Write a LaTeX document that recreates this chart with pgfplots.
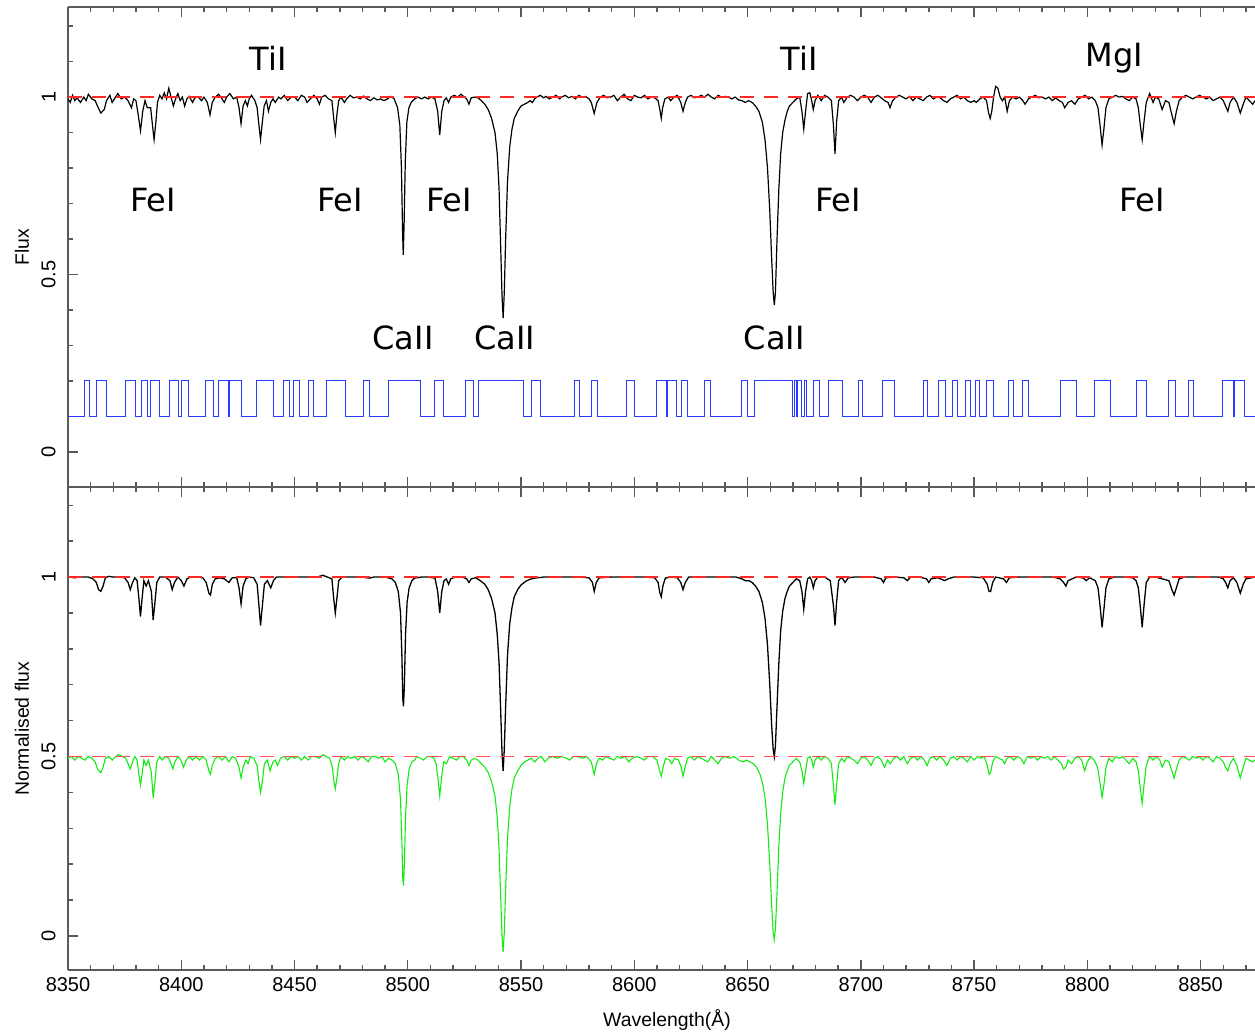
\documentclass[border=0pt]{standalone}
\usepackage{pgfplots}
\pgfplotsset{compat=1.18}
\usepackage{fontspec}
\setmainfont{Liberation Sans}
\newfontfamily\annfont{DejaVu Sans}

\definecolor{specred}{RGB}{255,40,40}
\definecolor{maskblue}{RGB}{40,60,255}
\definecolor{modelgreen}{RGB}{20,235,20}
\definecolor{framegray}{RGB}{90,90,90}

\tikzset{ann/.style={font=\annfont\fontsize{16}{18}\selectfont, anchor=center}}

\pgfplotsset{
  panel/.style={
    scale only axis, width=593.5pt,
    xmin=8350, xmax=8874,
    axis x line*=box, axis y line*=left,
    ytick pos=left,
    y axis line style={-},
    xtick={8350,8400,...,8850},
    minor xtick={8350,8360,...,8870},
    ytick={0,0.5,1},
    minor ytick={-0.1,0.1,0.2,0.3,0.4,0.6,0.7,0.8,0.9,1.1,1.2},
    xtick align=inside, ytick align=inside,
    major tick length=5pt, minor tick length=2.5pt,
    axis line style={framegray, line width=0.9pt},
    every tick/.style={framegray, line width=0.7pt},
    /pgf/number format/assume math mode=true,
    /pgf/number format/set thousands separator={},
    ticklabel style={font=\fontsize{10}{12}\selectfont},
    yticklabel style={rotate=90, anchor=south, inner ysep=6pt},
    label style={font=\fontsize{9.7}{11}\selectfont},
    ylabel style={at={(axis description cs:-0.0388,0.5)}, anchor=center},
  },
}

\begin{document}
\begin{tikzpicture}
% ---------------- lower panel ----------------
\begin{axis}[panel, name=bot, at={(0,0)}, anchor=south west,
    height=241.5pt, ymin=-0.095, ymax=1.251,
    ylabel={Normalised flux},
    xlabel={Wavelength(Å)},
    xlabel style={at={(axis description cs:0.5,0)}, yshift=-25pt, xshift=2.75pt, anchor=center},
  ]
% normalised observed spectrum
\addplot[black, line width=0.65pt] coordinates {
(8350,1) (8353,0.998) (8355,1) (8357,1) (8359,1) (8361,0.995) (8362.5,0.985) (8363.5,0.965)
(8364.5,0.96) (8365.5,0.975) (8366.5,0.998) (8368,1.002) (8370,1) (8373,1) (8375,0.998)
(8376.5,0.985) (8377.5,0.965) (8378.5,0.985) (8379.5,0.998) (8380.5,0.99) (8381.3,0.94)
(8382,0.89) (8382.7,0.94) (8383.5,0.99) (8384.5,0.975) (8385.5,0.99) (8386.8,0.96)
(8387.6,0.88) (8388.4,0.93) (8389.2,0.985) (8390.5,1) (8393,1) (8395,0.99) (8396,0.965)
(8397,0.985) (8398.5,1) (8400,0.99) (8401.2,0.975) (8402.5,0.995) (8404,1) (8407,1)
(8409.5,0.998) (8411,0.985) (8412.2,0.955) (8412.9,0.95) (8413.7,0.98) (8415,0.995)
(8417,0.998) (8419,0.995) (8421,0.985) (8422.5,0.998) (8424.5,0.998) (8425.5,0.97)
(8426.4,0.925) (8427.3,0.975) (8428.5,0.995) (8430,1) (8432,0.998) (8433.5,0.98)
(8434.3,0.92) (8435,0.865) (8435.8,0.92) (8436.7,0.98) (8438,0.99) (8439.5,0.97)
(8440.7,0.99) (8442,1) (8445,1) (8450,1) (8455,1) (8460,1) (8462.5,1.005) (8464.5,1)
(8466.5,0.995) (8467.3,0.94) (8468,0.90) (8468.7,0.94) (8469.5,0.99) (8471,1) (8475,1)
(8480,1) (8483,0.997) (8485,1) (8490,1) (8493,0.995) (8494.5,0.985) (8495.8,0.96)
(8496.8,0.90) (8497.4,0.78) (8497.8,0.66) (8498.1,0.64) (8498.5,0.7) (8499,0.84)
(8499.7,0.93) (8500.6,0.97) (8501.8,0.99) (8503,0.997) (8506,1) (8509,1) (8512,0.997)
(8513.2,0.96) (8514.1,0.90) (8515,0.96) (8516,0.99) (8517,0.995) (8518,0.98) (8519,0.995)
(8521,1) (8524,1) (8526,0.995) (8527,0.985) (8528,0.995) (8530,0.998) (8532,0.99)
(8534,0.98) (8535.5,0.965) (8537,0.94) (8538.5,0.9) (8539.5,0.84) (8540.3,0.76)
(8541,0.63) (8541.6,0.51) (8542.1,0.46) (8542.6,0.52) (8543.2,0.64) (8544,0.78)
(8545,0.87) (8546,0.915) (8547,0.945) (8548.5,0.965) (8550,0.978) (8552,0.988)
(8554,0.994) (8556,0.997) (8560,1) (8570,1) (8575,1) (8580,0.998) (8581.5,0.985)
(8582.3,0.96) (8583.2,0.985) (8584.5,0.998) (8590,1) (8595,1) (8600,1) (8605,1)
(8609,0.998) (8610.5,0.985) (8611.3,0.955) (8611.9,0.945) (8612.6,0.975) (8613.7,0.997)
(8616,1) (8619,0.998) (8620.5,0.985) (8621.5,0.965) (8622.5,0.985) (8624,1) (8630,1)
(8635,1) (8640,1) (8645,1) (8647.5,0.995) (8649,0.99) (8650.5,0.99) (8652,0.985)
(8653.5,0.975) (8655,0.96) (8656.5,0.93) (8657.7,0.885) (8658.8,0.81) (8659.8,0.7)
(8660.6,0.59) (8661.3,0.52) (8661.8,0.50) (8662.3,0.53) (8663,0.64) (8663.8,0.76)
(8664.6,0.85) (8665.5,0.905) (8666.5,0.94) (8667.5,0.96) (8668.5,0.975) (8670,0.985)
(8671.5,0.995) (8673,0.99) (8674,0.96) (8674.8,0.91) (8675.6,0.96) (8676.5,0.995)
(8677.5,1) (8678.3,0.99) (8679,0.97) (8679.8,0.99) (8681,1) (8684,1) (8686.5,0.99)
(8687.9,0.92) (8688.6,0.865) (8689.3,0.93) (8690.2,0.99) (8691.5,1) (8693,0.985)
(8694.5,0.998) (8697,1) (8702,1) (8706,1) (8709,0.995) (8710,0.985) (8711,0.998)
(8715,1) (8719,0.998) (8720.5,0.99) (8722,1) (8726,1) (8729,0.995) (8730,0.985)
(8731,0.995) (8734,0.998) (8737,0.99) (8738.5,0.995) (8741,1) (8746,1) (8750,1)
(8754,0.998) (8755.8,0.98) (8756.6,0.96) (8757.3,0.96) (8758.2,0.985) (8759.5,1)
(8763,0.995) (8764.3,0.985) (8765.5,0.998) (8770,1) (8775,1) (8780,1) (8785,1)
(8788,0.995) (8789.5,0.985) (8790.5,0.975) (8791.5,0.99) (8795,1) (8798,0.998)
(8799.5,0.99) (8801,0.998) (8803.5,0.99) (8804.7,0.97) (8805.6,0.92) (8806.5,0.86)
(8807.3,0.91) (8808.2,0.97) (8809.5,0.995) (8812,1) (8816,1) (8820,0.998) (8821.5,0.99)
(8822.5,0.97) (8823.4,0.915) (8824.2,0.86) (8825,0.92) (8826,0.985) (8827.5,1) (8830,1)
(8833,0.995) (8836,0.99) (8837.3,0.965) (8838.3,0.95) (8839.3,0.97) (8840.5,0.995)
(8843,1) (8848,1) (8853,1) (8858,1) (8860,0.995) (8861,0.985) (8862,0.97) (8863,0.99)
(8864.5,0.998) (8866,0.985) (8867.5,0.955) (8868.8,0.98) (8870,0.995) (8874,1)
};
% model spectrum, shifted by -0.5
\addplot[modelgreen, line width=0.55pt] coordinates {
(8350,0.495) (8351.5,0.5) (8353,0.49) (8354.5,0.5) (8356,0.495) (8357.5,0.49) (8359,0.5)
(8360.5,0.495) (8362,0.485) (8363,0.465) (8364.5,0.455) (8365.5,0.47) (8366.5,0.495)
(8368,0.5) (8369.5,0.49) (8371,0.5) (8372.5,0.505) (8374,0.5) (8375.5,0.495) (8376.5,0.48)
(8377.5,0.465) (8378.5,0.485) (8379.5,0.5) (8380.5,0.49) (8381.3,0.45) (8382,0.42)
(8382.7,0.45) (8383.5,0.49) (8384.5,0.475) (8385.5,0.49) (8386.8,0.455) (8387.6,0.385)
(8388.4,0.43) (8389.2,0.485) (8390.5,0.5) (8391.5,0.49) (8393,0.5) (8394.5,0.495)
(8395.5,0.48) (8396.3,0.465) (8397.2,0.485) (8398.5,0.5) (8399.8,0.49) (8401,0.47)
(8402.2,0.49) (8403.5,0.5) (8405,0.49) (8406.5,0.5) (8408,0.49) (8409.5,0.5) (8411,0.49)
(8412.2,0.46) (8412.9,0.45) (8413.7,0.475) (8415,0.495) (8416.5,0.5) (8418,0.49)
(8419.5,0.5) (8421,0.485) (8422.5,0.5) (8424,0.495) (8425.5,0.47) (8426.4,0.44)
(8427.3,0.47) (8428.5,0.49) (8429.5,0.48) (8430.5,0.5) (8432,0.495) (8433.5,0.475)
(8434.3,0.43) (8435,0.40) (8435.8,0.43) (8436.7,0.48) (8438,0.49) (8439.2,0.46)
(8440.5,0.485) (8441.5,0.49) (8442.5,0.475) (8443.8,0.495) (8445.5,0.5) (8447,0.49)
(8448.5,0.5) (8450,0.495) (8451.5,0.5) (8453,0.49) (8454.5,0.5) (8456,0.49) (8457.5,0.5)
(8459,0.5) (8461,0.495) (8462.5,0.505) (8464,0.5) (8465.5,0.495) (8466.7,0.47)
(8467.4,0.43) (8468,0.41) (8468.7,0.44) (8469.5,0.48) (8470.5,0.5) (8472,0.49)
(8473.5,0.5) (8475,0.495) (8476.5,0.5) (8478,0.49) (8479.5,0.5) (8481,0.495)
(8482.5,0.485) (8484,0.5) (8485.5,0.5) (8487,0.495) (8488.5,0.5) (8490,0.485)
(8491.5,0.495) (8493,0.49) (8494.5,0.48) (8495.8,0.45) (8496.8,0.38) (8497.4,0.26)
(8497.8,0.16) (8498.1,0.14) (8498.5,0.2) (8499,0.33) (8499.7,0.42) (8500.6,0.465)
(8501.8,0.485) (8503,0.49) (8504,0.5) (8505.5,0.495) (8507,0.49) (8508.5,0.5) (8510,0.5)
(8511.5,0.495) (8512.5,0.48) (8513.3,0.44) (8514.1,0.39) (8514.9,0.44) (8515.8,0.485)
(8517,0.48) (8518.5,0.5) (8520,0.495) (8521.5,0.49) (8523,0.5) (8524.5,0.5) (8526,0.49)
(8527,0.475) (8528,0.49) (8529.5,0.495) (8531,0.49) (8532.5,0.48) (8534,0.47)
(8535.5,0.455) (8537,0.43) (8538.5,0.39) (8539.5,0.33) (8540.3,0.24) (8541,0.11)
(8541.6,0.0) (8542.1,-0.045) (8542.6,0.01) (8543.2,0.13) (8544,0.27) (8545,0.36)
(8546,0.41) (8547,0.44) (8548.5,0.46) (8550,0.475) (8551.5,0.485) (8553,0.49)
(8554.5,0.495) (8556,0.485) (8557.5,0.495) (8559,0.5) (8560.5,0.485) (8562,0.495)
(8564,0.5) (8566,0.495) (8568,0.5) (8570,0.495) (8571.5,0.49) (8573,0.5) (8575,0.5)
(8577,0.495) (8579,0.5) (8581,0.485) (8582.3,0.45) (8583.3,0.48) (8584.5,0.495)
(8586,0.49) (8587.5,0.5) (8589,0.495) (8591,0.49) (8592.5,0.5) (8594,0.495) (8596,0.5)
(8597.5,0.485) (8599,0.495) (8601,0.5) (8603,0.495) (8604.5,0.49) (8606,0.5) (8608,0.5)
(8610,0.49) (8611.2,0.46) (8611.9,0.445) (8612.7,0.47) (8613.8,0.495) (8615.5,0.49)
(8616.5,0.48) (8617.8,0.495) (8619.5,0.49) (8620.7,0.47) (8621.5,0.445) (8622.4,0.47)
(8623.5,0.495) (8625,0.5) (8626.5,0.49) (8628,0.5) (8629.5,0.495) (8631,0.49)
(8632.5,0.485) (8634,0.5) (8635.5,0.49) (8637,0.48) (8638.5,0.495) (8640,0.5)
(8642,0.495) (8644,0.5) (8646,0.49) (8648,0.485) (8649.5,0.49) (8651,0.485)
(8652.5,0.48) (8654,0.47) (8655.5,0.45) (8656.8,0.42) (8657.8,0.38) (8658.8,0.31)
(8659.8,0.2) (8660.6,0.09) (8661.3,0.01) (8661.8,-0.01) (8662.3,0.02) (8663,0.12)
(8663.8,0.25) (8664.6,0.34) (8665.5,0.4) (8666.5,0.44) (8667.5,0.46) (8668.5,0.475)
(8670,0.485) (8671.5,0.495) (8673,0.485) (8674,0.46) (8674.8,0.425) (8675.6,0.46)
(8676.5,0.495) (8677.5,0.5) (8678.3,0.49) (8679,0.47) (8679.8,0.49) (8681,0.5)
(8682.5,0.49) (8684,0.5) (8685.5,0.495) (8687,0.48) (8687.9,0.42) (8688.6,0.365)
(8689.3,0.42) (8690.2,0.48) (8691.5,0.495) (8692.8,0.485) (8694,0.5) (8695.5,0.495)
(8697,0.49) (8698.5,0.48) (8700,0.495) (8701.5,0.5) (8703,0.49) (8704.5,0.475)
(8706,0.495) (8707.5,0.5) (8709,0.49) (8710.5,0.47) (8711.8,0.49) (8713,0.48)
(8714.5,0.495) (8716,0.5) (8717.5,0.49) (8719,0.5) (8720.5,0.48) (8722,0.495)
(8723.5,0.5) (8725,0.49) (8726.5,0.5) (8728,0.49) (8729.3,0.475) (8730.5,0.495)
(8732,0.5) (8733.5,0.49) (8735,0.5) (8736.5,0.49) (8738,0.475) (8739.5,0.495) (8741,0.5)
(8742.5,0.49) (8744,0.5) (8745.5,0.495) (8747,0.485) (8748.5,0.5) (8750,0.49)
(8751.5,0.5) (8753,0.495) (8754.5,0.5) (8755.8,0.475) (8756.6,0.45) (8757.3,0.455)
(8758.2,0.485) (8759.5,0.5) (8761,0.495) (8762.5,0.49) (8763.5,0.48) (8764.5,0.495)
(8766,0.5) (8767.5,0.49) (8769,0.5) (8770.5,0.495) (8772,0.48) (8773.5,0.5)
(8775,0.495) (8776.5,0.5) (8778,0.49) (8779.5,0.5) (8781,0.495) (8782.5,0.5)
(8784,0.49) (8785.5,0.5) (8787,0.49) (8788.5,0.48) (8789.5,0.465) (8790.5,0.47)
(8791.5,0.49) (8793,0.48) (8794.5,0.495) (8796,0.5) (8797.5,0.49) (8798.8,0.46)
(8800,0.485) (8801.5,0.5) (8803,0.49) (8804.5,0.47) (8805.5,0.43) (8806.5,0.387)
(8807.3,0.42) (8808.2,0.47) (8809.5,0.495) (8811,0.485) (8812.5,0.5) (8814,0.495)
(8815.5,0.5) (8817,0.49) (8818.5,0.48) (8820,0.495) (8821.5,0.485) (8822.5,0.46)
(8823.4,0.41) (8824.2,0.37) (8825,0.42) (8826,0.475) (8827.5,0.5) (8829,0.49)
(8830.5,0.5) (8832,0.49) (8833,0.47) (8834.5,0.49) (8836,0.485) (8837.3,0.46)
(8838.3,0.44) (8839.3,0.465) (8840.5,0.49) (8842,0.5) (8843.5,0.495) (8845,0.49)
(8846.5,0.5) (8848,0.495) (8849.5,0.5) (8851,0.49) (8852.5,0.5) (8854,0.495)
(8855.5,0.485) (8857,0.5) (8858.5,0.495) (8860,0.485) (8861,0.47) (8862,0.46)
(8863,0.48) (8864.5,0.495) (8866,0.475) (8867.5,0.44) (8868.8,0.47) (8870,0.495)
(8871.5,0.49) (8873,0.485) (8874,0.49)
};
\addplot[specred, line width=0.8pt, dash pattern=on 7pt off 5pt] coordinates {(8350,1) (8874,1)};
\addplot[specred!80!white, line width=0.8pt, dash pattern=on 7pt off 5pt] coordinates {(8350,0.5) (8874,0.5)};
\end{axis}

% ---------------- upper panel ----------------
\begin{axis}[panel, name=top, at={(0,241.5pt)}, anchor=south west,
    height=240pt, ymin=-0.099, ymax=1.254,
    xticklabels={},
    ylabel={Flux},
  ]
% observed spectrum
\addplot[black, line width=0.6pt] coordinates {
(8350,0.995) (8351,0.985) (8352,1.005) (8353,0.99) (8354,0.998) (8355.5,0.985) (8357,1.0)
(8358,0.99) (8359,1.008) (8360.5,0.995) (8362,0.99) (8363,0.975) (8364.5,0.955) (8366,0.965)
(8367,0.99) (8368.5,1.005) (8369.5,0.985) (8371,1.0) (8372,1.01) (8373.5,0.995) (8375,1.0)
(8376.5,0.99) (8378,0.97) (8379,0.995) (8380,0.99) (8381,0.95) (8382,0.905) (8383,0.96)
(8384,0.99) (8385,0.97) (8386.5,0.97) (8387.3,0.92) (8388,0.88) (8388.8,0.93) (8389.5,0.985)
(8390.5,1.005) (8391.5,0.995) (8392.5,1.012) (8393.5,0.995) (8394.5,1.025) (8395.5,1.0)
(8396.5,0.975) (8397.5,0.995) (8398.5,1.01) (8399.5,0.99) (8400.5,1.0) (8401.5,0.975)
(8402.5,0.995) (8403.5,1.002) (8405,0.985) (8406,0.998) (8407.5,1.0) (8409,0.99) (8410,1.0)
(8411.5,0.985) (8412.7,0.95) (8413.7,0.985) (8415,1.0) (8416.5,1.008) (8418,0.995)
(8419,0.985) (8420,1.0) (8421.5,1.01) (8423,0.995) (8424.5,1.0) (8425.5,0.97) (8426.4,0.925)
(8427.3,0.975) (8428.3,0.99) (8429.2,0.975) (8430,0.995) (8431,1.005) (8432.5,0.99)
(8433.5,0.97) (8434.3,0.92) (8435,0.88) (8435.8,0.93) (8436.6,0.975) (8437.6,0.99)
(8438.5,0.96) (8439.5,0.985) (8440.5,0.995) (8441.5,0.985) (8443,1.0) (8444,0.995)
(8445.5,1.005) (8447,0.99) (8448.5,1.0) (8450,1.0) (8451.5,0.99) (8453,1.005) (8454.5,1.0)
(8455.5,0.985) (8457,0.995) (8458.5,1.005) (8460,0.995) (8461,0.98) (8462,1.0)
(8463.5,1.005) (8465,0.995) (8466.5,0.99) (8467.3,0.94) (8468,0.90) (8468.7,0.95)
(8469.5,0.99) (8470.5,1.0) (8472,0.985) (8473,0.995) (8474.5,1.005) (8476,0.998)
(8477.5,1.0) (8479,0.995) (8480.5,1.003) (8482,0.995) (8483.5,0.99) (8485,0.998)
(8486.5,0.992) (8488,0.995) (8489.5,0.99) (8491,0.995) (8492.5,1.002) (8494,0.995)
(8495.5,0.97) (8496.5,0.92) (8497.2,0.80) (8497.7,0.62) (8498,0.555) (8498.4,0.65)
(8498.9,0.82) (8499.6,0.93) (8500.5,0.97) (8501.5,0.985) (8503,0.995) (8504.5,1.0)
(8506,0.995) (8507.5,1.0) (8509,0.995) (8510.5,1.0) (8512,0.995) (8513.2,0.96)
(8514.1,0.893) (8515,0.96) (8516,0.99) (8517,0.998) (8518,0.985) (8519,1.0) (8520.5,1.005)
(8522,1.0) (8523.5,1.008) (8525,1.0) (8526,0.995) (8527,0.98) (8528,0.998) (8529.5,1.0)
(8531,0.998) (8532.5,0.99) (8534,0.98) (8535.5,0.965) (8537,0.94) (8538.5,0.9)
(8539.5,0.84) (8540.3,0.74) (8541,0.58) (8541.6,0.44) (8542.1,0.377) (8542.6,0.45)
(8543.2,0.6) (8544,0.76) (8545,0.86) (8546,0.91) (8547,0.94) (8548.5,0.96) (8550,0.975)
(8551.5,0.98) (8553,0.985) (8554,0.99) (8555,0.985) (8556,0.995) (8557,1.0) (8558.5,1.005)
(8560,0.998) (8561,1.002) (8562.5,0.995) (8564,1.0) (8565.5,1.005) (8567,0.995) (8568,1.0)
(8569.5,1.005) (8571,0.998) (8572.5,1.002) (8574,0.995) (8575.5,1.005) (8577,1.0)
(8578.5,1.002) (8580,0.995) (8581,0.985) (8582.3,0.954) (8583.5,0.985) (8585,1.0)
(8586.5,1.005) (8588,0.998) (8589.5,1.0) (8591,1.005) (8592.5,0.99) (8594,1.0)
(8595.5,1.008) (8597,0.995) (8598.5,0.99) (8600,1.005) (8601.5,1.0) (8603,0.998)
(8604.5,1.005) (8606,0.995) (8607.5,1.0) (8609,0.998) (8610.5,0.99) (8611.4,0.96)
(8611.9,0.94) (8612.5,0.97) (8613.5,0.995) (8615,1.0) (8616,0.99) (8617.5,1.0)
(8619,1.005) (8620.5,0.985) (8621.5,0.96) (8622.5,0.985) (8623.5,1.0) (8625,1.005)
(8626.5,0.998) (8628,1.0) (8629.5,1.005) (8631,1.0) (8632.5,1.008) (8634,1.0)
(8635.5,0.995) (8637,1.005) (8638.5,1.0) (8640,1.002) (8641.5,1.0) (8643,0.995)
(8644.5,1.0) (8646,0.992) (8647.5,0.99) (8649,0.985) (8650.5,0.99) (8652,0.985)
(8653.5,0.975) (8655,0.96) (8656.5,0.93) (8657.7,0.88) (8658.8,0.8) (8659.8,0.68)
(8660.6,0.55) (8661.3,0.45) (8661.8,0.414) (8662.3,0.45) (8663,0.6) (8663.8,0.74)
(8664.6,0.84) (8665.5,0.9) (8666.5,0.935) (8667.5,0.96) (8668.5,0.975) (8670,0.985)
(8671.5,0.995) (8673,1.0) (8674,0.96) (8674.8,0.91) (8675.6,0.96) (8676.5,1.01)
(8677.5,1.012) (8678.3,0.99) (8679,0.965) (8679.8,0.99) (8681,1.005) (8682.5,0.99)
(8684,1.005) (8685.5,1.0) (8687,0.99) (8687.9,0.92) (8688.6,0.84) (8689.3,0.93)
(8690.2,0.99) (8691.5,1.0) (8692.5,0.985) (8694,1.0) (8695.5,1.005) (8697,1.0)
(8698.5,0.99) (8700,1.0) (8701.5,1.005) (8703,1.0) (8704.5,0.985) (8706,1.0)
(8707.5,1.005) (8709,0.998) (8710.5,0.99) (8712,0.985) (8712.9,0.97) (8714,0.99)
(8715.5,1.0) (8717,1.005) (8718.5,1.0) (8720,0.995) (8721.5,1.002) (8723,0.99)
(8724.5,1.0) (8726,0.995) (8727.5,0.99) (8729,1.0) (8730.5,1.005) (8732,0.995)
(8733.5,1.0) (8735,0.998) (8736.5,0.99) (8738,0.985) (8739.5,0.995) (8741,1.0)
(8742.5,1.005) (8744,0.995) (8745.5,1.0) (8747,0.99) (8748.5,0.985) (8750,0.99)
(8751,0.985) (8752.5,0.995) (8754,1.0) (8755.5,0.99) (8756.4,0.955) (8757.1,0.94)
(8757.8,0.96) (8758.6,1.0) (8759.5,1.03) (8760.5,1.025) (8761.5,1.0) (8762.5,0.99)
(8763.5,1.0) (8764.6,0.96) (8765.6,0.99) (8767,1.0) (8768.5,0.995) (8770,1.0)
(8771.5,0.99) (8772.5,0.98) (8774,0.995) (8775.5,1.0) (8777,1.005) (8778.5,0.998)
(8780,1.0) (8781.5,0.995) (8783,1.0) (8784.5,0.99) (8786,0.998) (8787.5,0.99)
(8789,0.985) (8790,0.97) (8791.5,0.985) (8793,0.99) (8794.5,0.98) (8796,0.995)
(8797.5,1.0) (8799,1.005) (8800.5,0.995) (8802,1.0) (8803.5,0.99) (8804.7,0.97)
(8805.6,0.92) (8806.5,0.865) (8807.3,0.91) (8808.2,0.97) (8809.5,0.995) (8811,1.0)
(8812.5,1.005) (8814,1.0) (8815.5,1.002) (8817,0.995) (8818.5,0.99) (8820,1.0)
(8821.5,0.995) (8822.5,0.97) (8823.4,0.92) (8824.2,0.88) (8825,0.93) (8826,0.985)
(8827.5,1.01) (8829,0.985) (8830,1.0) (8831.5,0.995) (8833,0.965) (8834.5,0.99)
(8836,0.985) (8837.3,0.95) (8838.3,0.925) (8839.3,0.96) (8840.5,0.99) (8842,1.0)
(8843.5,1.005) (8845,1.0) (8846.5,0.995) (8848,1.0) (8849.5,1.005) (8851,1.0)
(8852.5,0.995) (8854,1.0) (8855.5,0.99) (8857,0.995) (8858.5,1.0) (8860,0.99)
(8861,0.975) (8862,0.96) (8863,0.985) (8864.5,1.0) (8866,0.985) (8867.5,0.955)
(8868.8,0.98) (8870,1.0) (8871.5,0.99) (8873,0.98) (8874,0.99)
};
\addplot[specred, line width=0.8pt, dash pattern=on 7pt off 5pt] coordinates {(8350,1) (8874,1)};
% line mask
\addplot[maskblue, line width=0.5pt, const plot] coordinates {
(8350,0.1) (8357.1,0.2) (8359.4,0.1) (8362.4,0.2) (8367.1,0.1) (8375.5,0.2) (8379.6,0.1)
(8382.5,0.2) (8385.0,0.1) (8386.2,0.2) (8390.6,0.1) (8395.0,0.2) (8398.7,0.1)
(8400.2,0.2) (8403.1,0.1) (8410.8,0.2) (8414.2,0.1) (8416.4,0.2) (8420.8,0.1)
(8421.5,0.2) (8426.7,0.1) (8433.3,0.2) (8440.6,0.1) (8445.0,0.2) (8448.0,0.1)
(8449.5,0.2) (8452.4,0.1) (8456.1,0.2) (8458.3,0.1) (8464.2,0.2) (8472.3,0.1)
(8480.4,0.2) (8483.3,0.1) (8491.4,0.2) (8505.4,0.1) (8512.0,0.2) (8515.7,0.1)
(8525.3,0.2) (8529.0,0.1) (8531.1,0.2) (8551.0,0.1) (8554.7,0.2) (8558.4,0.1)
(8573.7,0.2) (8575.7,0.1) (8581.1,0.2) (8583.6,0.1) (8596.5,0.2) (8600.1,0.1)
(8609.9,0.2) (8614.0,0.1) (8614.8,0.2) (8618.8,0.1) (8621.0,0.2) (8623.3,0.1)
(8630.9,0.2) (8633.7,0.1) (8647.2,0.2) (8650.1,0.1) (8653.1,0.2) (8670.0,0.1)
(8670.8,0.2) (8671.4,0.1) (8672.2,0.2) (8673.6,0.1) (8675.0,0.2) (8676.0,0.1)
(8678.9,0.2) (8681.9,0.1) (8685.9,0.2) (8691.9,0.1) (8698.8,0.2) (8700.8,0.1)
(8709.7,0.2) (8714.7,0.1) (8727.6,0.2) (8729.6,0.1) (8734.5,0.2) (8737.5,0.1)
(8740.5,0.2) (8742.5,0.1) (8746.4,0.2) (8748.4,0.1) (8750.4,0.2) (8752.4,0.1)
(8755.4,0.2) (8758.4,0.1) (8765.3,0.2) (8767.3,0.1) (8771.2,0.2) (8774.2,0.1)
(8788.1,0.2) (8795.1,0.1) (8803.0,0.2) (8810.0,0.1) (8821.9,0.2) (8825.9,0.1)
(8835.7,0.2) (8838.7,0.1) (8844.7,0.2) (8846.7,0.1) (8859.6,0.2) (8864.5,0.1)
(8865.0,0.2) (8869.5,0.1) (8874,0.1)
};
% line identifications
\node[ann] at (axis cs:8438.3,1.11) {TiI};
\node[ann] at (axis cs:8672.7,1.11) {TiI};
\node[ann] at (axis cs:8811.8,1.11) {MgI};
\node[ann] at (axis cs:8387.5,0.71) {FeI};
\node[ann] at (axis cs:8470.1,0.71) {FeI};
\node[ann] at (axis cs:8518.2,0.71) {FeI};
\node[ann] at (axis cs:8690.0,0.71) {FeI};
\node[ann] at (axis cs:8824.2,0.71) {FeI};
\node[ann] at (axis cs:8497.9,0.321) {CaII};
\node[ann] at (axis cs:8542.9,0.321) {CaII};
\node[ann] at (axis cs:8661.7,0.321) {CaII};
\end{axis}

\pgfresetboundingbox
\path[use as bounding box] (-34pt,-32pt) rectangle (593.5pt,485pt);
\end{tikzpicture}
\end{document}
